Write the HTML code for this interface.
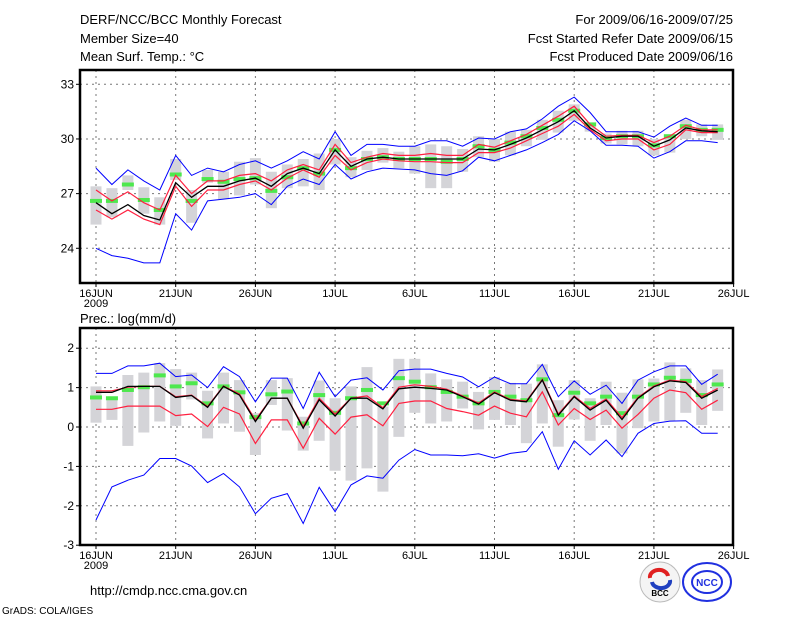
<!DOCTYPE html>
<html><head><meta charset="utf-8"><style>
html,body{margin:0;padding:0;background:#fff;width:800px;height:618px;overflow:hidden}
svg text{font-family:"Liberation Sans",sans-serif;fill:#000}
</style></head><body>
<svg id="chart" width="800" height="618" viewBox="0 0 800 618" xmlns="http://www.w3.org/2000/svg">
<g font-size="13">
<text x="80" y="24">DERF/NCC/BCC Monthly Forecast</text>
<text x="80" y="43">Member Size=40</text>
<text x="80" y="61">Mean Surf. Temp.: °C</text>
<text x="733" y="24" text-anchor="end">For 2009/06/16-2009/07/25</text>
<text x="733" y="43" text-anchor="end">Fcst Started Refer Date 2009/06/15</text>
<text x="733" y="61" text-anchor="end">Fcst Produced Date 2009/06/16</text>
<text x="80" y="323">Prec.: log(mm/d)</text>
<text x="90" y="595">http://cmdp.ncc.cma.gov.cn</text>
<text x="2" y="614" font-size="10">GrADS: COLA/IGES</text>
</g>
<g>
<circle cx="660" cy="582" r="20" fill="#f4f4f4" stroke="#bbb"/>
<path d="M650 578 a9 7 0 0 1 18 -2" stroke="#e02020" stroke-width="4" fill="none"/>
<path d="M652 582 a9 7 0 0 0 18 -2" stroke="#2040c0" stroke-width="4" fill="none"/>
<text x="660" y="596" font-size="8" text-anchor="middle" font-weight="bold" fill="#333">BCC</text>
</g>
<g>
<ellipse cx="707" cy="582" rx="24" ry="19" fill="none" stroke="#2030e0" stroke-width="2"/>
<ellipse cx="707" cy="582" rx="15" ry="11" fill="none" stroke="#2030e0" stroke-width="2"/>
<text x="707" y="586" font-size="10" text-anchor="middle" font-weight="bold" fill="#2030e0" style="fill:#2030e0">NCC</text>
</g>
<g id="top"></g>
<g id="bot"></g>
</svg>
<script>
// ---- Temperature panel data (days 0..39 from 16JUN) ----
const tBlueUp=[28.4,27.5,28.3,27.7,27.2,29.1,28.0,28.4,28.2,28.6,28.8,28.4,28.8,29.3,28.9,30.4,29.1,29.7,29.7,29.6,29.6,29.9,29.9,29.6,30.05,30.0,30.4,30.55,31.1,31.8,32.3,31.45,30.4,30.4,30.4,30.1,30.7,31.15,30.75,30.75];
const tBlueLo=[24.0,23.6,23.45,23.2,23.2,25.9,25.0,26.6,26.7,26.8,27.0,26.4,27.4,27.8,27.5,28.6,27.8,28.2,28.4,28.35,28.3,28.1,28.0,28.25,29.0,28.8,29.1,29.4,29.8,30.25,31.0,30.45,29.65,29.65,29.6,28.95,29.3,29.9,29.9,29.8];
const tRedUp=[27.2,26.6,27.1,26.5,26.1,28.0,27.0,27.7,27.7,28.0,28.1,27.7,28.3,28.6,28.3,29.7,28.7,29.0,29.2,29.1,29.1,29.2,29.1,29.1,29.7,29.55,29.9,30.25,30.75,31.25,31.8,30.8,30.15,30.2,30.2,29.8,30.15,30.75,30.5,30.5];
const tRedLo=[26.1,25.6,26.1,25.6,25.3,27.4,26.3,27.2,27.2,27.5,27.7,27.2,27.85,28.3,27.9,29.1,28.3,28.7,28.9,28.8,28.75,28.75,28.7,28.7,29.25,29.25,29.5,29.9,30.3,30.7,31.35,30.5,29.9,30.0,30.0,29.4,29.7,30.5,30.35,30.35];
const tMean=[26.5,25.9,26.4,25.8,25.55,27.6,26.8,27.4,27.4,27.7,27.85,27.4,28.1,28.4,28.1,29.4,28.5,28.9,29.0,28.9,28.9,28.9,28.9,28.9,29.45,29.4,29.7,30.05,30.5,30.95,31.55,30.6,30.05,30.15,30.15,29.6,29.95,30.6,30.45,30.4];
const tObs=[26.6,26.6,27.5,26.65,26.1,28.05,26.6,27.8,27.65,27.8,27.85,27.15,27.9,28.4,28.1,29.4,28.4,28.9,29.0,28.9,28.9,28.9,28.75,28.9,29.6,29.4,29.8,30.15,30.6,31.05,31.55,30.8,30.05,30.15,30.15,29.65,30.15,30.7,30.5,30.5];
const tBarTop=[27.4,27.3,28.0,27.35,26.8,28.9,27.2,28.3,28.2,28.75,28.95,28.2,28.6,28.9,29.2,30.0,29.0,29.35,29.5,29.3,29.6,29.7,29.6,29.45,30.15,30.0,30.4,30.5,31.05,31.55,31.9,30.9,30.3,30.45,30.45,30.0,30.25,31.05,30.8,30.8];
const tBarBot=[25.3,25.7,27.2,25.9,25.3,27.75,25.4,27.6,26.7,26.9,27.5,26.2,27.3,27.4,27.2,28.6,27.9,28.3,28.7,28.4,28.1,27.3,27.3,28.2,29.0,28.75,29.1,29.6,29.95,30.35,31.0,30.4,29.75,29.7,29.6,29.1,29.25,30.0,30.15,29.95];
const tTicks=[24,27,30,33];
// ---- Precipitation panel data ----
const pBlueUp=[1.36,1.36,1.55,1.55,1.62,1.28,1.32,1.0,1.53,1.28,0.64,1.24,1.24,0.47,1.39,0.77,1.19,1.25,0.94,1.43,1.47,1.47,1.36,1.27,1.02,1.27,1.1,1.1,1.59,0.77,1.17,0.83,1.06,0.6,1.19,1.4,1.55,1.55,1.08,1.34];
const pBlueLo=[-2.36,-1.52,-1.35,-1.22,-0.8,-0.8,-0.99,-1.41,-1.18,-1.52,-2.2,-1.81,-1.69,-2.45,-1.53,-2.15,-1.47,-1.24,-1.3,-0.84,-0.57,-0.71,-0.71,-0.73,-0.68,-0.79,-0.67,-0.62,-0.12,-1.07,-0.35,-0.71,-0.33,-0.75,-0.16,0.09,0.15,0.16,-0.16,-0.16];
const pRedUp=[0.92,0.92,1.01,1.03,1.03,0.77,0.81,0.52,1.04,0.84,0.18,0.73,0.73,0.01,0.73,0.33,0.73,0.79,0.49,1.01,1.07,1.03,0.96,0.79,0.61,0.89,0.7,0.66,1.21,0.33,0.79,0.47,0.71,0.24,0.75,1.04,1.19,1.15,0.77,0.98];
const pRedLo=[0.45,0.45,0.53,0.53,0.53,0.29,0.33,0.01,0.5,0.33,-0.42,0.18,0.18,-0.54,0.22,-0.18,0.25,0.31,0.03,0.6,0.66,0.66,0.47,0.39,0.3,0.53,0.35,0.26,0.89,0.05,0.47,0.19,0.43,-0.03,0.32,0.73,0.94,0.87,0.45,0.68];
const pMean=[0.88,0.88,1.03,1.03,1.03,0.75,0.8,0.5,1.03,0.81,0.14,0.73,0.73,-0.03,0.69,0.28,0.73,0.73,0.46,0.97,1.01,0.98,0.94,0.77,0.58,0.87,0.68,0.64,1.19,0.3,0.77,0.43,0.68,0.19,0.73,1.02,1.17,1.13,0.73,0.94];
const pObs=[0.75,0.73,0.94,1.01,1.31,1.03,1.11,0.6,1.03,0.88,0.25,0.83,0.9,0.09,0.81,0.36,0.73,0.94,0.6,1.24,1.15,1.01,0.89,0.77,0.6,0.89,0.77,0.68,1.21,0.3,0.87,0.6,0.77,0.35,0.77,1.08,1.25,1.17,0.81,1.08];
const pBarTop=[1.03,0.77,1.32,1.38,1.62,1.47,1.38,0.92,1.38,1.19,0.35,1.19,1.24,0.26,1.18,0.73,1.03,1.52,0.52,1.73,1.73,1.36,1.21,1.15,0.89,1.27,1.12,1.1,1.59,0.68,1.19,0.73,1.15,0.87,1.21,1.23,1.64,1.49,1.19,1.46];
const pBarBot=[0.11,0.18,-0.48,-0.14,0.14,0.03,0.7,-0.29,0.09,-0.12,-0.71,0.56,-0.09,-0.6,-0.35,-1.11,-1.36,-1.05,-1.64,-0.25,0.36,0.09,0.14,0.47,-0.06,0.18,0.05,-0.41,0.09,-0.5,0.19,-0.35,0.05,-0.67,-0.03,0.14,0.16,0.36,0.05,0.41];
const pTicks=[-3,-2,-1,0,1,2];
const dayLabels=["16JUN","21JUN","26JUN","1JUL","6JUL","11JUL","16JUL","21JUL","26JUL"];

const NS="http://www.w3.org/2000/svg";
const xS=d=>96+15.94*d;
function mk(tag,attrs,parent){const e=document.createElementNS(NS,tag);for(const k in attrs)e.setAttribute(k,attrs[k]);parent.appendChild(e);return e;}
function pts(arr,yS){return arr.map((v,i)=>xS(i).toFixed(1)+","+yS(v).toFixed(1)).join(" ");}

function panel(g,top,bot,yS,ticks,bt,bb,obs,bu,bl,ru,rl,mn,prefix){
  // grid
  ticks.forEach(t=>{const y=yS(t);
    const l=mk('line',{x1:80,x2:733,y1:y,y2:y,stroke:'#777','stroke-dasharray':'2,4','stroke-width':1},g);
    
    
    mk('line',{x1:76,x2:80,y1:y,y2:y,stroke:'#000'},g);
    const tx=mk('text',{x:74,y:y+4,'text-anchor':'end','font-size':12},g);tx.textContent=t;
    
    
  });
  dayLabels.forEach((lab,i)=>{const x=xS(i*5);
    if(i<8){const l=mk('line',{x1:x,x2:x,y1:top,y2:bot,stroke:'#777','stroke-dasharray':'2,4'},g);
    
    }
    mk('line',{x1:x,x2:x,y1:bot,y2:bot+4,stroke:'#000'},g);
    const tx=mk('text',{x:x,y:bot+14,'text-anchor':'middle','font-size':11},g);tx.textContent=lab;
    
    
  });
  const yr=mk('text',{x:96,y:bot+24,'text-anchor':'middle','font-size':11},g);yr.textContent="2009";
  
  
  bt.forEach((v,i)=>{const y1=yS(v),y2=yS(bb[i]);
    const r=mk('rect',{x:xS(i)-5.5,y:y1,width:11,height:Math.max(1,y2-y1),fill:'#d4d4d8'},g);
    
    });
  obs.forEach((v,i)=>{
    const r=mk('rect',{x:xS(i)-6,y:yS(v)-2,width:12,height:4,fill:'#4ee84e'},g);
    
    });
  [[bu,'#0000ff',1,'max-line'],[bl,'#0000ff',1,'min-line'],[ru,'#ff2040',1.2,'upper-line'],[rl,'#ff2040',1.2,'lower-line'],[mn,'#000',1.3,'mean-line']].forEach(([a,c,w,n])=>{
    const p=mk('polyline',{points:pts(a,yS),fill:'none',stroke:c,'stroke-width':w},g);
    
    });
  const f=mk('rect',{x:80,y:top,width:653,height:bot-top,fill:'none',stroke:'#000','stroke-width':2.5},g);
  
  
}
panel(document.getElementById('top'),70,283,v=>84.3+(33-v)*18.22,tTicks,tBarTop,tBarBot,tObs,tBlueUp,tBlueLo,tRedUp,tRedLo,tMean,'temp');
panel(document.getElementById('bot'),328,545,v=>427-v*39.4,pTicks,pBarTop,pBarBot,pObs,pBlueUp,pBlueLo,pRedUp,pRedLo,pMean,'prec');
</script>
</body></html>
